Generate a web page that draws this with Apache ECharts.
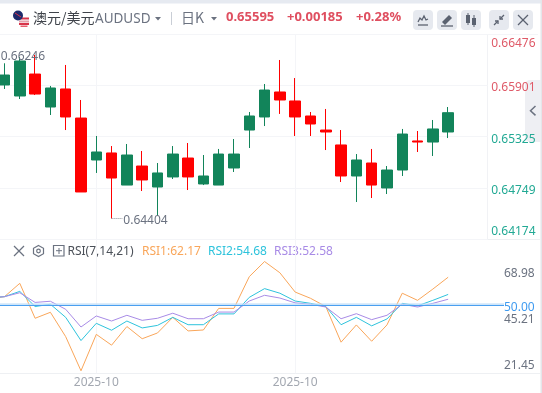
<!DOCTYPE html>
<html><head><meta charset="utf-8">
<style>html,body{margin:0;padding:0;background:#fff}#c{width:542px;height:393px}</style>
<script src="https://cdn.jsdelivr.net/npm/echarts@6/dist/echarts.min.js"></script>
</head><body><div id="c"></div>
<script>
const opens=[.65907,.65783,.66030,.65659,.65862,.65535,.65063,.65142,.64781,.64995,.64759,.64872,.65085,.64793,.64781,.64973,.65400,.65547,.65828,.65727,.65558,.65400,.65232,.64883,.65029,.64748,.64950,.65277,.65265,.65378];
const closes=[.66019,.66177,.65805,.65873,.65547,.64703,.65153,.64860,.65119,.64838,.64917,.65130,.64872,.64883,.65130,.65130,.65558,.65850,.65738,.65547,.65468,.65378,.64883,.65063,.64781,.64950,.65355,.65265,.65412,.65595];
const lows=[.65862,.65749,.65794,.65569,.65400,.64703,.64917,.64404,.64781,.64714,.64433,.64849,.64725,.64781,.64781,.64928,.65198,.65445,.65581,.65333,.65333,.65175,.64815,.64590,.64635,.64680,.64883,.65153,.65108,.65310];
const highs=[.66151,.66222,.66246,.65896,.66132,.65738,.65333,.65220,.65243,.65164,.65029,.65220,.65254,.65119,.65187,.65299,.65603,.65918,.66188,.65985,.65603,.65637,.65400,.65130,.65187,.64995,.65412,.65389,.65513,.65659];
const rsi1=[52.8,53.7,59.5,44.3,46.9,36.3,21.45,37.3,32.6,40.7,35.4,37.9,44.7,38.8,39.2,48.6,48.6,62.4,68.98,64.1,55.7,53.0,49.4,33.9,41.4,34.3,41.4,55.2,52.1,57.0,62.17];
const rsi2=[53.2,53.7,56.0,49.4,50.4,44.7,34.6,42.1,39.1,43.1,40.1,41.2,44.7,41.5,41.5,46.2,46.2,53.4,57.2,55.2,51.8,50.8,49.4,41.5,44.7,41.0,44.0,50.8,49.7,52.1,54.68];
const rsi3=[53.2,53.7,55.4,51.2,51.7,48.2,40.5,45.3,43.1,45.6,43.4,44.3,46.5,44.1,44.1,47.0,47.0,51.8,54.3,53.1,51.0,50.4,49.2,44.1,46.3,43.7,45.6,50.4,49.2,50.8,52.58];
const priceTicks=[0.64174,0.64749,0.65325,0.65901,0.66476];
const rsiTicks=[21.45,45.21,50,68.98];
const dateTicks=[6,19];
const dateLabel='2025-10';
const font='"Noto Sans","Noto Sans CJK SC",sans-serif';
const cjk='"Noto Sans CJK SC","Noto Sans",sans-serif';
const GREEN='#12845a',RED='#ff0000',C1='#f9a65a',C2='#2ec3dc',C3='#a88be6',GRID='#f4f5f8',TXT='#6b7280';

const candle=opens.map((o,i)=>[i,o,closes[i],lows[i],highs[i]]);
const toLine=a=>a.map((v,i)=>[i-1,v]);

function txt(x,y,t,fill,size,weight,family){return {type:'text',silent:true,style:{x,y,text:t,fill,fontSize:size,fontWeight:weight||'normal',fontFamily:family||font,textVerticalAlign:'middle',textBaseline:'middle'}};}
function btn(x,w){return {type:'rect',silent:true,shape:{x,y:10,width:w,height:20,r:4},style:{fill:'#e6e9ef'}};}
function seg(x1,y1,x2,y2,c,w){return {type:'line',silent:true,shape:{x1,y1,x2,y2},style:{stroke:c,lineWidth:w||1}};}
function tri(x,y){return {type:'polygon',silent:true,shape:{points:[[x,y],[x+6,y],[x+3,y+3.5]]},style:{fill:'#6b7280'}};}
function poly(pts,c,w){return {type:'polyline',silent:true,shape:{points:pts},style:{stroke:c,lineWidth:w||1.3,fill:'none'}};}

const chrome=[
 {type:'rect',silent:true,shape:{x:0,y:0,width:542,height:3.5},style:{fill:'#e6eaf1'}},
 {type:'rect',silent:true,shape:{x:540.5,y:0,width:1.5,height:393},style:{fill:'#e4e6ea'}},
 seg(0,34.5,538,34.5,'#f4f5f8'),
 seg(0,239.5,540,239.5,'#eef0f3'),
 seg(0,373.5,540,373.5,'#eef0f3'),
 seg(487.5,34.5,487.5,239.5,'#f1f2f5'),
 {type:'rect',silent:true,shape:{x:525,y:80,width:16,height:62,r:[5,0,0,5]},style:{fill:'#eeeff3'}},
 poly([[535.5,106],[530.5,110.7],[535.5,115.4]],'#6b7280',1.5),
 {type:'rect',silent:true,shape:{x:19,y:17.5,width:10,height:2},style:{fill:'#d8344a'}},
 {type:'rect',silent:true,shape:{x:19,y:20.5,width:10,height:2},style:{fill:'#e5a0ab'}},
 {type:'rect',silent:true,shape:{x:19,y:23,width:10,height:2},style:{fill:'#d8344a'}},
 {type:'rect',silent:true,shape:{x:20.5,y:25.5,width:7,height:1.5},style:{fill:'#e5606f'}},
 {type:'circle',silent:true,shape:{cx:18,cy:15.5,r:5},style:{fill:'#1d2a6b'}},
 seg(15,13,21,17,'#d8344a',1),
 txt(33,18,'澳元/美元','#3f434a',14,'normal',cjk),
 txt(95,19,'AUDUSD',TXT,13.5),
 tri(155,17),
 seg(171.5,12,171.5,25,'#c9ced6'),
 txt(181,17.5,'日K',TXT,14,'normal',cjk),
 tri(211,17),
 txt(226,17.5,'0.65595','#df4f60',13,'bold'),
 txt(287,17.5,'+0.00185','#df4f60',13,'bold'),
 txt(356,17.5,'+0.28%','#df4f60',13,'bold'),
 btn(413,20),btn(437,20),btn(461,20),btn(489,20),btn(513,20),
 poly([[418,22],[420,18],[422,20],[424,16],[426,20],[428,19]],'#5b6270',1.3),seg(418,25,428,25,'#5b6270',1.3),
 {type:'polygon',silent:true,shape:{points:[[442,22],[449,15],[452,18],[445,25]]},style:{fill:'#5b6270'}},seg(441,26,453,26,'#5b6270',1.3),
 {type:'rect',silent:true,shape:{x:466,y:15,width:4,height:8},style:{fill:'#5b6270'}},{type:'rect',silent:true,shape:{x:472,y:18,width:4,height:7},style:{fill:'#5b6270'}},seg(468,13,468,25,'#5b6270'),seg(474,15,474,27,'#5b6270'),
 seg(494,25,498,21,'#5b6270',1.3),seg(504,15,500,19,'#5b6270',1.3),poly([[495,21],[498,21],[498,24]],'#5b6270',1.3),poly([[500,16],[500,19],[503,19]],'#5b6270',1.3),
 seg(518,15,528,25,'#5b6270',1.3),seg(528,15,518,25,'#5b6270',1.3),
 seg(14,246,24,256,'#6b7280',1.2),seg(24,246,14,256,'#6b7280',1.2),
 {type:'polygon',silent:true,shape:{points:[[38.5,245.5],[43.5,248.3],[43.5,253.7],[38.5,256.5],[33.5,253.7],[33.5,248.3]]},style:{stroke:'#6b7280',fill:'none',lineWidth:1.2}},
 {type:'circle',silent:true,shape:{cx:38.5,cy:251,r:1.8},style:{stroke:'#6b7280',fill:'none',lineWidth:1.2}},
 {type:'rect',silent:true,shape:{x:53.5,y:245.5,width:10.5,height:10.5},style:{stroke:'#6b7280',fill:'none',lineWidth:1.2}},
 seg(56,250.7,62,250.7,'#6b7280'),seg(59,248,59,254,'#6b7280'),
 txt(67.5,251.5,'RSI(7,14,21)','#4b5058',12),
 txt(142,251.5,'RSI1:62.17',C1,12),
 txt(208,251.5,'RSI2:54.68',C2,12),
 txt(274,251.5,'RSI3:52.58',C3,12)
];

const option={
 animation:false,
 backgroundColor:'#fff',
 textStyle:{fontFamily:font},
 grid:[{left:0,top:34.4,width:487.7,height:204.6},{left:0,top:240,width:504,height:133.3}],
 xAxis:[
  {type:'value',gridIndex:0,min:-0.294,max:31.58,axisLine:{show:false},axisTick:{show:false,customValues:dateTicks},axisLabel:{show:false},splitLine:{show:true,lineStyle:{color:GRID}}},
  {type:'value',gridIndex:1,min:-0.294,max:32.65,axisLine:{show:false},axisTick:{show:false,customValues:dateTicks},
   axisLabel:{show:true,customValues:dateTicks,formatter:()=>dateLabel,color:'#a3a8b1',fontSize:12,margin:3,fontFamily:font},splitLine:{show:true,lineStyle:{color:GRID}}}
 ],
 yAxis:[
  {type:'value',gridIndex:0,position:'right',min:priceTicks[0],max:priceTicks[4],axisLine:{show:false},axisTick:{show:false,customValues:priceTicks},
   splitLine:{show:true,lineStyle:{color:GRID}},
   axisLabel:{customValues:priceTicks,margin:3.5,fontFamily:font,
     formatter:v=>{const s=v.toFixed(5);const i=priceTicks.findIndex(t=>Math.abs(t-v)<1e-7);return '{p'+i+'|'+s+'}';},
     rich:{p0:{color:'#22a994',fontSize:12,padding:[0,0,15,0]},p1:{color:'#22a994',fontSize:12,padding:[5,0,0,0]},p2:{color:'#22a994',fontSize:12,padding:[5,0,0,0]},p3:{color:'#df5a68',fontSize:12,padding:[5,0,0,0]},p4:{color:'#df5a68',fontSize:12,padding:[19,0,0,0]}}}},
  {type:'value',gridIndex:1,position:'right',min:20.36,max:78.35,axisLine:{show:false},axisTick:{show:false,customValues:rsiTicks},splitLine:{show:false},
   axisLabel:{customValues:rsiTicks,margin:0,fontFamily:font,
     formatter:v=>{const s=v.toFixed(2);const i=rsiTicks.indexOf(v);return '{r'+i+'|'+s+'}';},
     rich:{r0:{color:TXT,fontSize:12,padding:[0,0,11,0]},r1:{color:TXT,fontSize:12,padding:[6,0,0,0]},r2:{color:'#3f9bf0',fontSize:12,padding:[4,0,0,0]},r3:{color:TXT,fontSize:12,padding:[25,0,0,0]}}}}
 ],
 series:[
  {type:'candlestick',xAxisIndex:0,yAxisIndex:0,data:candle,encode:{x:0,y:[1,2,3,4]},barWidth:11,
   itemStyle:{color:GREEN,color0:RED,borderColor:GREEN,borderColor0:RED,borderWidth:1},
   markPoint:{symbol:'circle',symbolSize:0,silent:true,data:[
     {coord:[2,highs[2]],label:{show:true,position:'left',distance:-10,formatter:highs[2].toFixed(5),color:TXT,fontSize:12,fontFamily:font,offset:[0,2]}},
     {coord:[7.7,lows[7]],label:{show:true,position:'right',distance:1,formatter:lows[7].toFixed(5),color:TXT,fontSize:12,fontFamily:font,offset:[0,2]}}
   ]},
   markLine:{symbol:'none',silent:true,animation:false,lineStyle:{color:'#8a8f99',type:'dotted',width:1},label:{show:false},
     data:[[{coord:[7,lows[7]]},{coord:[7.7,lows[7]]}]]}},
  {type:'line',name:'RSI1',xAxisIndex:1,yAxisIndex:1,data:toLine(rsi1),showSymbol:false,lineStyle:{color:C1,width:1},itemStyle:{color:C1},
   markLine:{symbol:'none',silent:true,animation:false,label:{show:false},lineStyle:{color:'#4a9ff0',width:1.2,type:'solid',shadowColor:'#bcdcf8',shadowBlur:0,shadowOffsetY:-1.3},data:[{yAxis:50}]}},
  {type:'line',name:'RSI2',xAxisIndex:1,yAxisIndex:1,data:toLine(rsi2),showSymbol:false,lineStyle:{color:C2,width:1},itemStyle:{color:C2}},
  {type:'line',name:'RSI3',xAxisIndex:1,yAxisIndex:1,data:toLine(rsi3),showSymbol:false,lineStyle:{color:C3,width:1},itemStyle:{color:C3}}
 ],
 graphic:chrome
};
echarts.init(document.getElementById('c'),null,{renderer:'canvas'}).setOption(option);
</script></body></html>
